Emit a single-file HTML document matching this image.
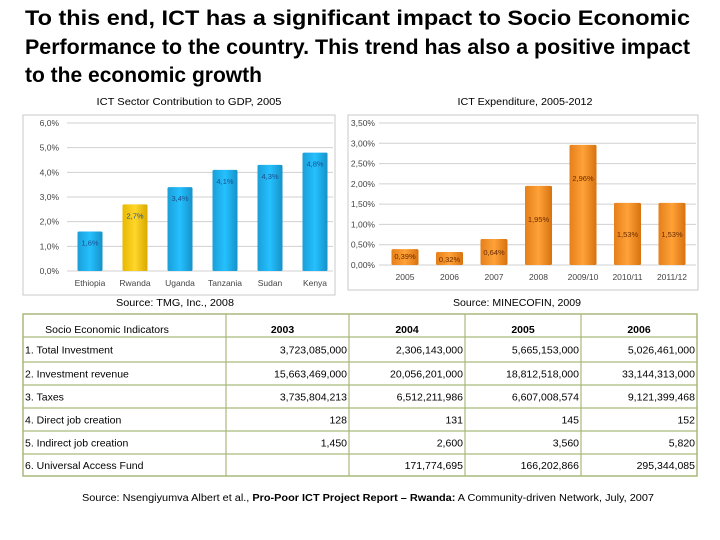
<!DOCTYPE html>
<html><head><meta charset="utf-8"><style>
html,body{margin:0;padding:0;background:#fff;}
svg{display:block;font-family:"Liberation Sans",sans-serif;}
</style></head><body>
<svg id="s" width="720" height="540" viewBox="0 0 720 540">
<defs>
<linearGradient id="gb" x1="0" x2="1"><stop offset="0" stop-color="#1a9fd8"/><stop offset="0.5" stop-color="#25c0ff"/><stop offset="1" stop-color="#1592c8"/></linearGradient>
<linearGradient id="gy" x1="0" x2="1"><stop offset="0" stop-color="#e8b800"/><stop offset="0.5" stop-color="#ffd62a"/><stop offset="1" stop-color="#d9a900"/></linearGradient>
<linearGradient id="go" x1="0" x2="1"><stop offset="0" stop-color="#e57f1a"/><stop offset="0.5" stop-color="#ffa238"/><stop offset="1" stop-color="#d7720f"/></linearGradient>
</defs>
<g font-weight="bold" font-size="21" fill="#000">
<text x="25" y="25" textLength="665" lengthAdjust="spacingAndGlyphs">To this end, ICT has a significant impact to Socio Economic</text>
<text x="25" y="54" textLength="665" lengthAdjust="spacingAndGlyphs">Performance to the country. This trend has also a positive impact</text>
<text x="25" y="82" textLength="237" lengthAdjust="spacingAndGlyphs">to the economic growth</text>
</g>
<g id="c1">
<text x="189" y="105" font-size="10" text-anchor="middle" textLength="185" lengthAdjust="spacingAndGlyphs">ICT Sector Contribution to GDP, 2005</text>
<rect x="23" y="115" width="312" height="180" fill="#fff" stroke="#c8c8c8"/>
<text x="175" y="306" font-size="10" text-anchor="middle" textLength="118" lengthAdjust="spacingAndGlyphs">Source: TMG, Inc., 2008</text>
</g>
<g id="c2">
<text x="525" y="105" font-size="10" text-anchor="middle" textLength="135" lengthAdjust="spacingAndGlyphs">ICT Expenditure, 2005-2012</text>
<rect x="348" y="115" width="350" height="175" fill="#fff" stroke="#c8c8c8"/>
<text x="517" y="306" font-size="10" text-anchor="middle" textLength="128" lengthAdjust="spacingAndGlyphs">Source: MINECOFIN, 2009</text>
</g>
<g id="tbl" font-size="10.5"></g>
<text x="368" y="501" font-size="10" text-anchor="middle" textLength="572" lengthAdjust="spacingAndGlyphs">Source: Nsengiyumva Albert et al.,  <tspan font-weight="bold">Pro-Poor ICT Project Report – Rwanda:</tspan> A Community-driven Network, July, 2007</text>
</svg>
<script>
const gdpCountries=["Ethiopia","Rwanda","Uganda","Tanzania","Sudan","Kenya"];
const gdpValues=[1.6,2.7,3.4,4.1,4.3,4.8];
const gdpTicks=["0,0%","1,0%","2,0%","3,0%","4,0%","5,0%","6,0%"];
const expYears=["2005","2006","2007","2008","2009/10","2010/11","2011/12"];
const expValues=[0.39,0.32,0.64,1.95,2.96,1.53,1.53];
const expTicks=["0,00%","0,50%","1,00%","1,50%","2,00%","2,50%","3,00%","3,50%"];
const tblHeader=["Socio Economic Indicators","2003","2004","2005","2006"];
const tblRows=[
["1. Total Investment","3,723,085,000","2,306,143,000","5,665,153,000","5,026,461,000"],
["2. Investment revenue","15,663,469,000","20,056,201,000","18,812,518,000","33,144,313,000"],
["3. Taxes","3,735,804,213","6,512,211,986","6,607,008,574","9,121,399,468"],
["4. Direct job creation","128","131","145","152"],
["5. Indirect job creation","1,450","2,600","3,560","5,820"],
["6. Universal Access Fund","","171,774,695","166,202,866","295,344,085"]];
const NS="http://www.w3.org/2000/svg";
function mk(p,t,a,txt){const e=document.createElementNS(NS,t);for(const k in a)e.setAttribute(k,a[k]);if(txt!==undefined)e.textContent=txt;p.appendChild(e);return e;}
function chart(g,cats,vals,ticks,maxV,x0,x1,y0,y1,labX,first,step,bw,fillFn,lblFmt,name){
  const y=v=>y0-(v/maxV)*(y0-y1);
  ticks.forEach((t,i)=>{const v=maxV*i/(ticks.length-1);
    const l=mk(g,"line",{x1:x0,x2:x1,y1:y(v),y2:y(v),stroke:"#d0d0d0","stroke-width":1});
    
    
    const tx=mk(g,"text",{x:labX,y:y(v)+3,"font-size":"8.5","text-anchor":"end",fill:"#444"},t);
    
    });
  cats.forEach((c,i)=>{const cx=first+i*step;const v=vals[i];
    const r=mk(g,"rect",{x:cx-bw/2,y:y(v),width:bw,height:y0-y(v),fill:fillFn(i),rx:1.5});
    
    
    const lt=mk(g,"text",{x:cx,y:y(v)+(name==="gdp"?14:(v<0.5?10:Math.min(36,(y0-y(v))/2+3))),"font-size":"7.5","text-anchor":"middle",fill:name==="gdp"?"#1e4d8c":"#6b2a00"},lblFmt(v));
    
    
    const xl=mk(g,"text",{x:cx,y:y0+15,"font-size":"8.5","text-anchor":"middle",fill:"#444"},c);
    
    });
}
chart(document.getElementById("c1"),gdpCountries,gdpValues,gdpTicks,6,67,333,271,123,59,90,45,25,
  i=>gdpCountries[i]==="Rwanda"?"url(#gy)":"url(#gb)",v=>v.toFixed(1).replace(".",",")+"%","gdp");
chart(document.getElementById("c2"),expYears,expValues,expTicks,3.5,379,696,265,123,375,405,44.5,27,
  i=>"url(#go)",v=>v.toFixed(2).replace(".",",")+"%","exp");
const T=document.getElementById("tbl");
const cols=[23,226,349,465,581,697];
const rowsY=[314,337,362,385,408,431,454,476];
mk(T,"rect",{x:23,y:314,width:674,height:162,fill:"none",stroke:"#a9b97a","stroke-width":1.5});
cols.slice(1,5).forEach(c=>{const l=mk(T,"line",{x1:c,x2:c,y1:314,y2:476,stroke:"#a9b97a","stroke-width":1.2});
  
  });
rowsY.slice(1,7).forEach(r=>{const l=mk(T,"line",{x1:23,x2:697,y1:r,y2:r,stroke:"#a9b97a","stroke-width":1.2});
  
  });
tblHeader.forEach((h,i)=>{const cx=i===0?107:(cols[i]+cols[i+1])/2+(i===1?-5:0);
  const t=mk(T,"text",{x:cx,y:333,"text-anchor":"middle","font-weight":i?"bold":"normal"},h);
  
  });
tblRows.forEach((row,r)=>{const ty=(rowsY[r+1]+rowsY[r+2])/2+4;
  row.forEach((v,i)=>{const t=i===0?mk(T,"text",{x:25,y:ty},v):mk(T,"text",{x:cols[i+1]-2,y:ty,"text-anchor":"end"},v);
    
    });});
</script>
</body></html>
